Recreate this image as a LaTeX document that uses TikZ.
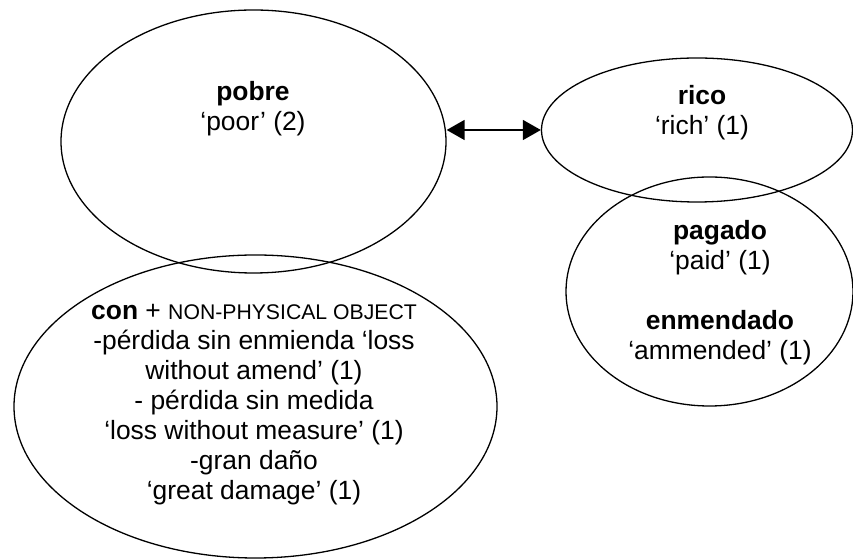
\documentclass[tikz,border=0pt]{standalone}
\usepackage{fontspec}
\setmainfont{Liberation Sans}
\usetikzlibrary{shapes.geometric,arrows.meta}
\begin{document}
\begin{tikzpicture}[x=0.5pt,y=-0.5pt,
  oval/.style={draw=black,line width=0.65pt,ellipse,inner sep=0pt},
  lbl/.style={align=center,inner sep=0pt,font={\fontsize{13.2}{15}\selectfont}},
  link/.style={line width=0.75pt,{Triangle[length=9pt,width=10pt]}-{Triangle[length=9pt,width=10pt]}}]
\useasboundingbox (0,0) rectangle (853,560);
\node[oval,minimum width=192.5pt,minimum height=131.5pt] (pobre) at (253.5,141.5) {};
\node[oval,minimum width=155.5pt,minimum height=72pt] (rico) at (697,130) {};
\node[oval,minimum width=143.5pt,minimum height=114.5pt] (pagado) at (709.5,291.5) {};
\node[oval,minimum width=241.5pt,minimum height=151.5pt] (con) at (255.5,406.5) {};
\node[lbl] (tpobre) at (253,109) {\textbf{pobre}\\‘poor’ (2)};
\node[lbl] (trico) at (702,113) {\textbf{rico}\\‘rich’ (1)};
\node[lbl] (tpagado) at (720,293) {\textbf{pagado}\\‘paid’ (1)\\[15pt]\textbf{enmendado}\\‘ammended’ (1)};
\node[lbl] (tcon) at (254,405) {\textbf{con} + {\fontsize{10.6}{15}\selectfont NON-PHYSICAL OBJECT}\\-pérdida sin enmienda ‘loss\\without amend’ (1)\\- pérdida sin medida\\‘loss without measure’ (1)\\-gran daño\\‘great damage’ (1)};
\draw[link] (pobre.east |- rico.west) -- (rico.west);
\end{tikzpicture}
\end{document}
